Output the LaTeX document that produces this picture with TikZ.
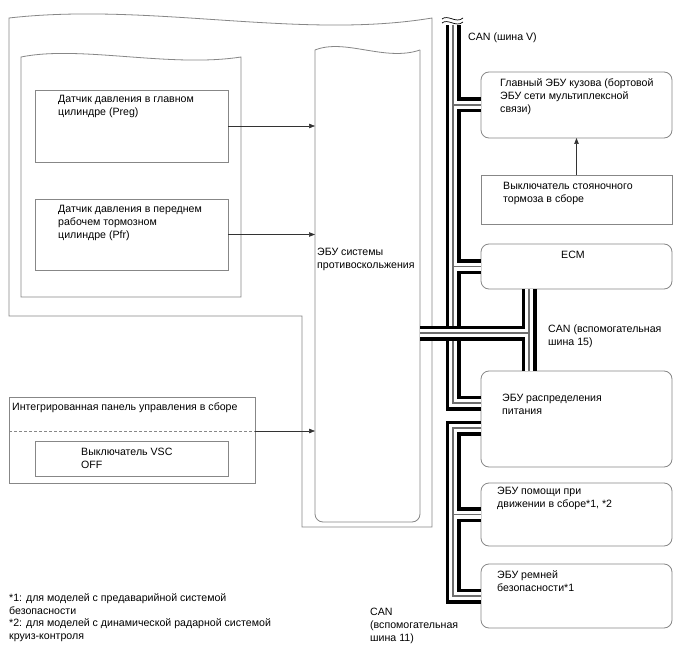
\documentclass[tikz,border=0pt]{standalone}
\usepackage{fontspec}
\setmainfont{Liberation Sans}
\usetikzlibrary{arrows.meta}
\definecolor{lgray}{RGB}{135,135,135}
\definecolor{cgray}{RGB}{110,110,110}
\begin{document}
\begin{tikzpicture}[x=1pt,y=-1pt,
  fr/.style={draw=lgray,line width=0.8pt},
  box/.style={draw=lgray,line width=0.8pt,anchor=north west,inner sep=0pt,outer sep=0pt},
  rbox/.style={box,rounded corners=8pt},
  txt/.style={anchor=north west,inner sep=0pt,align=left,font=\fontsize{10.6}{13}\selectfont},
  arr/.style={draw=black!80,line width=0.6pt,-{Triangle[length=6pt,width=4.5pt]}},
  busA/.style={line width=15pt,black,line join=miter,line cap=butt},
  busB/.style={line width=8pt,white,line join=miter,line cap=butt},
  busC/.style={line width=1.3pt,cgray,line join=miter,line cap=butt},
]
\useasboundingbox (0,0) rectangle (688,658);
\fill[white] (0,0) rectangle (688,658);

% frames
\draw[fr] (9,18) .. controls (150,2) and (300,40) .. (432,18) -- (432,527) -- (302,527) -- (302,316) -- (9,316) -- cycle;
\draw[fr] (21,57) .. controls (80,45) and (170,68) .. (241,57) -- (241,297) -- (21,297) -- cycle;
\node[inner sep=0pt,outer sep=0pt,minimum width=105pt,minimum height=472pt,anchor=north west] (ecu) at (315,50) {};
\draw[fr] (315,50) .. controls (345,38) and (385,62) .. (420,50);
\draw[fr,rounded corners=8pt] (420,50) -- (420,522) -- (315,522) -- (315,50);

% left boxes
\node[box,minimum width=193pt,minimum height=72pt] (s1) at (35,90) {};
\node[box,minimum width=193pt,minimum height=71pt] (s2) at (35,199) {};
\node[box,minimum width=246pt,minimum height=86pt] (panel) at (9,397) {};
\node[box,minimum width=193pt,minimum height=35pt] (vsc) at (35,441) {};
\draw[draw=lgray,line width=0.8pt,dash pattern=on 3pt off 2pt] (9,431) -- (255,431);
\coordinate (dsh) at (255,431);

% right boxes
\node[rbox,minimum width=191pt,minimum height=66pt] (main) at (481,72) {};
\node[box,minimum width=191pt,minimum height=49pt] (park) at (481,175) {};
\node[rbox,minimum width=191pt,minimum height=45pt] (ecm) at (481,244) {};
\node[rbox,minimum width=191pt,minimum height=96pt] (pd) at (481,371) {};
\node[rbox,minimum width=191pt,minimum height=63pt] (assist) at (481,483) {};
\node[rbox,minimum width=191pt,minimum height=64pt] (belt) at (481,564) {};

% arrows
\draw[arr] (s1.east) -- (s1.east -| ecu.west);
\draw[arr] (s2.east) -- (s2.east -| ecu.west);
\draw[arr] (dsh) -- (dsh -| ecu.west);
\draw[arr] (park.north) -- (park.north |- main.south);

% bus coordinates
\coordinate (vtop) at (453,25);
\coordinate (pdA) at (481,403);
\coordinate (pdB) at (481,428);
\coordinate (s15) at (529,333);

% CAN bus V
\foreach \s in {busA,busB,busC}
  \draw[\s] (vtop) -- (vtop |- pdA) -- (pdA)
    (vtop |- main.west) -- (main.west)
    (vtop |- ecm.west) -- (ecm.west);
% CAN sub bus 11
\foreach \s in {busA,busB,busC}
  \draw[\s] (pdB) -- (vtop |- pdB) -- (vtop |- belt.west) -- (belt.west)
    (vtop |- assist.west) -- (assist.west);
% CAN sub bus 15 and link from skid control ECU
\foreach \s in {busA,busB,busC}
  \draw[\s] (ecu.east |- s15) -- (s15)
    (s15 |- ecm.south) -- (s15 |- pd.north);

% break mark
\draw[black,line width=0.7pt] (442,19) .. controls (448,14) and (456,24) .. (463,18);
\draw[black,line width=0.7pt] (442,23) .. controls (448,18) and (456,28) .. (463,22);

% texts
\node[txt] (t1) at (58,95) {Датчик давления в главном\\цилиндре (Preg)};
\node[txt] (t2) at (58,205) {Датчик давления в переднем\\рабочем тормозном\\цилиндре (Pfr)};
\node[txt] (tecu) at (317,248) {ЭБУ системы\\противоскольжения};
\node[txt] (tpanel) at (12,403) {Интегрированная панель управления в сборе};
\node[txt] (tvsc) at (81,448) {Выключатель VSC\\OFF};
\node[txt] (tmain) at (500,78) {Главный ЭБУ кузова (бортовой\\ЭБУ сети мультиплексной\\связи)};
\node[txt] (tpark) at (503,182) {Выключатель стояночного\\тормоза в сборе};
\node[txt,anchor=north] (tecm) at (573,251) {ECM};
\node[txt] (tpd) at (502,394) {ЭБУ распределения\\питания};
\node[txt] (tassist) at (497,487) {ЭБУ помощи при\\движении в сборе*1, *2};
\node[txt] (tbelt) at (497,570) {ЭБУ ремней\\безопасности*1};
\node[txt] (canv) at (468,33) {CAN (шина V)};
\node[txt] (can15) at (548,325) {CAN (вспомогательная\\шина 15)};
\node[txt] (can11) at (370,608) {CAN\\(вспомогательная\\шина 11)};
\node[txt] (fn1) at (9,593) {*1: для моделей с предаварийной системой\\безопасности};
\node[txt] (fn2) at (9,618) {*2: для моделей с динамической радарной системой\\круиз-контроля};
\end{tikzpicture}
\end{document}
